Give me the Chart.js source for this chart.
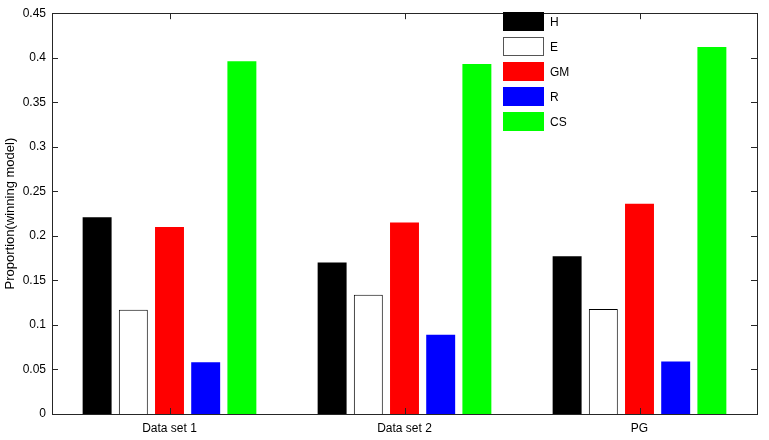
<!DOCTYPE html>
<html>
<head>
<meta charset="utf-8">
<script src="https://cdn.jsdelivr.net/npm/chart.js@4/dist/chart.umd.min.js"></script>
<style>
  html, body { margin: 0; padding: 0; background: #fff; }
  #wrap { width: 769px; height: 440px; }
</style>
</head>
<body>
<div id="wrap"><canvas id="canvas-1" width="769" height="440"></canvas></div>
<script>
// categories and series
var categories = ['Data set 1', 'Data set 2', 'PG'];
var seriesNames = ['H', 'E', 'GM', 'R', 'CS'];
var hValues = [0.221, 0.170, 0.177];
var eValues = [0.117, 0.134, 0.118];
var gmValues = [0.210, 0.215, 0.236];
var rValues = [0.058, 0.089, 0.059];
var csValues = [0.396, 0.393, 0.412];
var yTickLabels = ['0', '0.05', '0.1', '0.15', '0.2', '0.25', '0.3', '0.35', '0.4', '0.45'];

var fillColors = ['#000000', '#ffffff', '#ff0000', '#0000ff', '#00ff00'];
var edgeColors = ['#000000', '#000000', '#ff0000', '#0000ff', '#00ff00'];
var allValues = [hValues, eValues, gmValues, rValues, csValues];

var font = { family: '"Liberation Sans", Arial, sans-serif', size: 12 };

// axes box, inward ticks and legend inside the plot
var matlabFrame = {
    id: 'matlabFrame',
    afterDraw: function (chart) {
        var ctx = chart.ctx;
        var a = chart.chartArea;
        var y = chart.scales.y;
        var x = chart.scales.x;
        ctx.save();
        ctx.strokeStyle = '#262626';
        ctx.lineWidth = 1;
        ctx.strokeRect(Math.round(a.left) + 0.5, Math.round(a.top) + 0.5,
            Math.round(a.right - a.left), Math.round(a.bottom - a.top));
        ctx.beginPath();
        y.ticks.forEach(function (t) {
            var py = Math.round(y.getPixelForValue(t.value)) + 0.5;
            ctx.moveTo(a.left, py); ctx.lineTo(a.left + 6, py);
            ctx.moveTo(a.right, py); ctx.lineTo(a.right - 6, py);
        });
        categories.forEach(function (c, i) {
            var px = Math.round(x.getPixelForValue(i)) + 0.5;
            ctx.moveTo(px, a.bottom); ctx.lineTo(px, a.bottom - 6);
            ctx.moveTo(px, a.top); ctx.lineTo(px, a.top + 6);
        });
        ctx.stroke();

        // legend
        var lx = 503, ly = 12, sw = 41, sh = 19, gap = 25;
        ctx.font = '12px ' + font.family;
        ctx.textBaseline = 'middle';
        ctx.textAlign = 'left';
        chart.data.datasets.forEach(function (ds, i) {
            var top = ly + i * gap;
            ctx.fillStyle = ds.backgroundColor;
            ctx.fillRect(lx, top, sw, sh);
            if (ds.borderWidth) {
                ctx.strokeStyle = '#555';
                ctx.strokeRect(lx + 0.5, top + 0.5, sw - 1, sh - 1);
            }
            ctx.fillStyle = '#000';
            ctx.fillText(ds.label, lx + 47, top + sh / 2 + 1);
        });
        ctx.restore();
    }
};

var barChart = new Chart(document.getElementById('canvas-1'), {
    type: 'bar',
    data: {
        labels: categories,
        datasets: seriesNames.map(function (name, i) {
            return {
                label: name,
                data: allValues[i],
                backgroundColor: fillColors[i],
                borderColor: edgeColors[i],
                borderWidth: i === 1 ? 1 : 0,
                barPercentage: 0.8,
                categoryPercentage: 0.77
            };
        })
    },
    options: {
        responsive: false,
        animation: false,
        layout: { padding: { top: 11, right: 12, left: 0, bottom: 0 } },
        plugins: {
            legend: { display: false },
            tooltip: { enabled: false }
        },
        scales: {
            x: {
                grid: { display: false, drawTicks: false },
                border: { display: false },
                ticks: { color: '#000', font: font, padding: 7 },
                afterFit: function (s) { s.height = 26; }
            },
            y: {
                min: 0,
                max: 0.45,
                grid: { display: false, drawTicks: false },
                border: { display: false },
                ticks: {
                    stepSize: 0.05,
                    color: '#000',
                    font: font,
                    padding: 6,
                    callback: function (v, i) { return yTickLabels[i]; }
                },
                title: {
                    display: true,
                    text: 'Proportion(winning model)',
                    color: '#000',
                    font: { family: font.family, size: 13 },
                    padding: { top: 3, bottom: 0 }
                },
                afterFit: function (s) { s.width = 52; }
            }
        }
    },
    plugins: [matlabFrame]
});
</script>
</body>
</html>
